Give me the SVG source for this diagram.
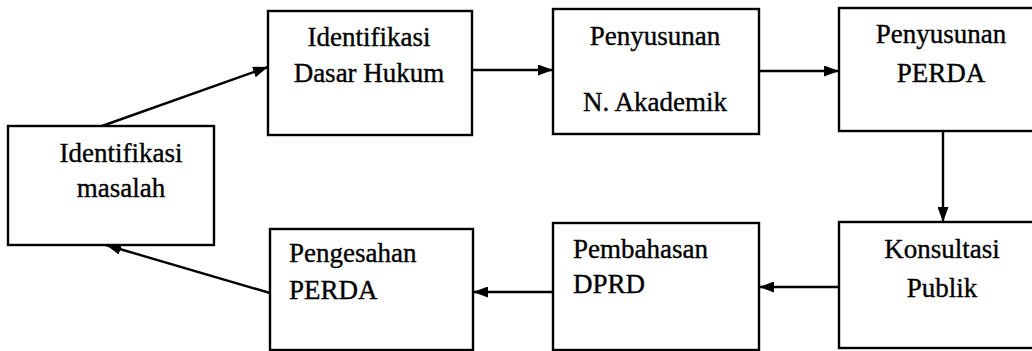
<svg xmlns="http://www.w3.org/2000/svg" width="1032" height="351" viewBox="0 0 1032 351">
<style>
.box{fill:#fff;stroke:#000;stroke-width:2.4}
.t{font-family:"Liberation Serif","Times New Roman",serif;font-size:27px;fill:#000;stroke:#000;stroke-width:0.35}
.c{text-anchor:middle}
.ln{stroke:#000;stroke-width:2.4;fill:none;marker-end:url(#ah)}
</style>
<defs>
<marker id="ah" viewBox="0 0 15 11" refX="15" refY="5.5" markerWidth="15" markerHeight="11" markerUnits="userSpaceOnUse" orient="auto">
<path d="M0,0 L15,5.5 L0,11 Z" fill="#000"/>
</marker>
</defs>
<rect width="1032" height="351" fill="#fff"/>
<g id="connectors">
<line class="ln" x1="102" y1="126" x2="268" y2="67"/>
<line class="ln" x1="472" y1="70" x2="553" y2="70"/>
<line class="ln" x1="759" y1="71" x2="839" y2="71"/>
<line class="ln" x1="943" y1="131" x2="943" y2="222"/>
<line class="ln" x1="839" y1="287" x2="759" y2="287"/>
<line class="ln" x1="553" y1="292" x2="473" y2="292"/>
<line class="ln" x1="270" y1="293" x2="106" y2="245"/>
</g>
<g id="n-masalah">
<rect class="box" x="8" y="126" width="206" height="119"/>
<text class="t c" x="121" y="162">Identifikasi</text>
<text class="t c" x="121" y="197">masalah</text>
</g>
<g id="n-dasar-hukum">
<rect class="box" x="268" y="11" width="204" height="124"/>
<text class="t c" x="369" y="46">Identifikasi</text>
<text class="t c" x="369" y="82">Dasar Hukum</text>
</g>
<g id="n-akademik">
<rect class="box" x="553" y="9" width="206" height="125"/>
<text class="t c" x="655" y="45">Penyusunan</text>
<text class="t c" x="655" y="111">N. Akademik</text>
</g>
<g id="n-penyusunan-perda">
<rect class="box" x="839" y="8" width="200" height="123"/>
<text class="t c" x="941" y="43">Penyusunan</text>
<text class="t c" x="941" y="82">PERDA</text>
</g>
<g id="n-konsultasi">
<rect class="box" x="839" y="222" width="200" height="126"/>
<text class="t c" x="942" y="258">Konsultasi</text>
<text class="t c" x="942" y="297">Publik</text>
</g>
<g id="n-pembahasan">
<rect class="box" x="553" y="223" width="206" height="127"/>
<text class="t" x="573" y="258">Pembahasan</text>
<text class="t" x="573" y="293">DPRD</text>
</g>
<g id="n-pengesahan">
<rect class="box" x="270" y="229" width="203" height="121"/>
<text class="t" x="289" y="262">Pengesahan</text>
<text class="t" x="289" y="299">PERDA</text>
</g>
</svg>
